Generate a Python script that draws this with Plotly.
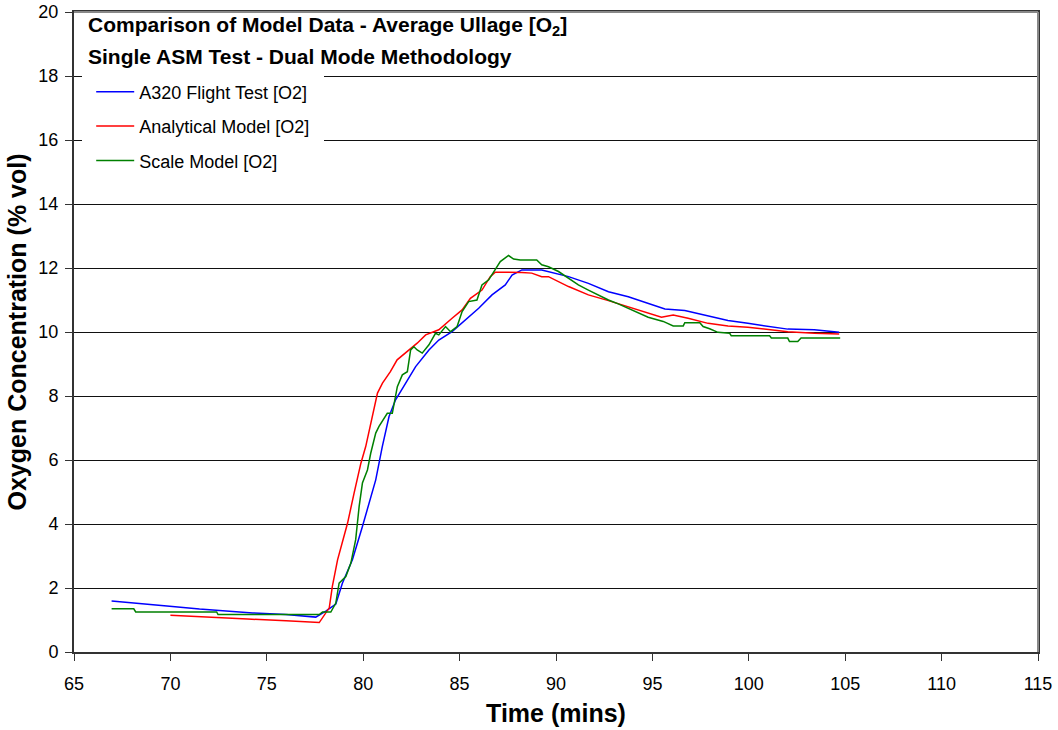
import plotly.graph_objects as go

# Time (mins) and O2 concentration (% vol)
flight_x = [66.95, 68.24, 69.96, 71.51, 72.9, 74.27, 75.99, 77.54, 78.06, 78.58, 78.92, 79.44,
            79.96, 80.30, 80.65, 80.99, 81.34, 81.68, 82.2, 82.72, 83.41, 83.92, 84.61, 85.3,
            85.99, 86.68, 87.37, 87.72, 88.23, 89.26, 89.61, 90.3, 90.65, 91.68, 92.72, 93.75,
            94.78, 95.65, 96.68, 97.89, 98.92, 99.95, 100.99, 102.02, 103.4, 104.69]
flight_y = [1.59, 1.53, 1.43, 1.34, 1.27, 1.22, 1.17, 1.09, 1.28, 1.5, 2.15, 2.88,
            3.92, 4.65, 5.38, 6.42, 7.36, 7.88, 8.4, 8.92, 9.44, 9.75, 10.01, 10.38,
            10.74, 11.16, 11.47, 11.78, 11.94, 11.94, 11.89, 11.78, 11.73, 11.52, 11.26, 11.1,
            10.9, 10.72, 10.67, 10.5, 10.36, 10.27, 10.17, 10.09, 10.07, 9.99]

analytical_x = [70.0, 72.0, 74.0, 76.0, 77.72, 78.24, 78.4, 78.67, 78.84, 79.19, 79.53, 79.88,
                80.13, 80.39, 80.74, 81.0, 81.41, 81.76, 82.27, 82.8, 83.24, 83.92, 84.61, 85.13,
                85.56, 86.16, 86.59, 86.85, 88.23, 88.74, 89.26, 89.61, 90.65, 91.68, 92.72, 93.75,
                94.61, 95.47, 96.08, 96.85, 97.89, 98.92, 99.95, 100.99, 102.02, 103.4, 104.69]
analytical_y = [1.15, 1.08, 1.03, 0.98, 0.92, 1.38, 2.05, 2.88, 3.25, 4.03, 4.97, 5.9,
                6.42, 7.15, 8.09, 8.4, 8.76, 9.13, 9.39, 9.65, 9.91, 10.07, 10.43, 10.69,
                11.05, 11.31, 11.73, 11.87, 11.86, 11.84, 11.73, 11.73, 11.42, 11.16, 10.98, 10.79,
                10.61, 10.46, 10.53, 10.43, 10.27, 10.19, 10.15, 10.07, 10.01, 9.96, 9.94]

scale_x = [66.95, 68.1, 68.2, 72.4, 72.47, 77.72, 77.89, 78.32, 78.58, 78.75, 79.1, 79.36,
           79.61, 79.79, 79.96, 80.22, 80.39, 80.65, 80.82, 81.25, 81.51, 81.77, 82.03, 82.29,
           82.46, 82.63, 82.8, 83.06, 83.41, 83.75, 83.92, 84.27, 84.53, 84.87, 85.13, 85.47,
           85.9, 86.16, 86.51, 87.11, 87.54, 87.8, 88.15, 89.0, 89.26, 89.61, 90.13, 90.65,
           91.16, 91.68, 92.2, 92.72, 93.23, 93.75, 94.27, 94.78, 95.56, 96.08, 96.6, 96.68,
           97.46, 97.63, 97.97, 98.4, 99.01, 99.09, 101.08, 101.17, 102.02, 102.11, 102.54, 102.71,
           104.74]
scale_y = [1.35, 1.35, 1.25, 1.25, 1.17, 1.17, 1.25, 1.25, 1.53, 2.15, 2.36, 2.78,
           3.51, 4.55, 5.28, 5.69, 6.21, 6.84, 7.05, 7.46, 7.46, 8.29, 8.66, 8.76,
           9.44, 9.54, 9.44, 9.34, 9.6, 9.96, 9.91, 10.17, 10.01, 10.17, 10.64, 10.95,
           11.0, 11.47, 11.63, 12.2, 12.39, 12.28, 12.25, 12.25, 12.1, 12.04, 11.89, 11.68,
           11.47, 11.31, 11.16, 11.0, 10.88, 10.74, 10.59, 10.46, 10.33, 10.19, 10.19, 10.29,
           10.29, 10.17, 10.1, 9.99, 9.96, 9.88, 9.88, 9.81, 9.81, 9.7, 9.7, 9.81,
           9.81]

FONT = "Arial, Liberation Sans, sans-serif"

fig = go.Figure()
fig.add_trace(go.Scatter(x=flight_x, y=flight_y, mode="lines", name="A320 Flight Test [O2]",
                         line=dict(color="#0000FF", width=1.5), legendgroup="a"))
fig.add_trace(go.Scatter(x=analytical_x, y=analytical_y, mode="lines", name="Analytical Model [O2]",
                         line=dict(color="#FF0000", width=1.5), legendgroup="b"))
fig.add_trace(go.Scatter(x=scale_x, y=scale_y, mode="lines", name="Scale Model [O2]",
                         line=dict(color="#008000", width=1.5), legendgroup="c"))

fig.update_layout(
    width=1058, height=730,
    margin=dict(l=74, r=20, t=12, b=78, autoexpand=False),
    paper_bgcolor="white", plot_bgcolor="white",
    font=dict(family=FONT, size=18, color="black"),
    showlegend=True,
    legend=dict(x=0.0085, y=0.918, xanchor="left", yanchor="top",
                bgcolor="white", bordercolor="white", borderwidth=9, font=dict(size=18),
                itemwidth=38, tracegroupgap=8, traceorder="grouped"),
    xaxis=dict(range=[65, 115], dtick=5, tick0=65, showgrid=False, zeroline=False,
               automargin=False, ticklabeloverflow="allow", mirror=True,
               showline=True, linecolor="#333333", linewidth=2,
               ticks="outside", ticklen=7, tickcolor="#333333", tickwidth=1,
               ticklabelstandoff=7,
               tickfont=dict(size=18),
               title=dict(text="<b>Time (mins)</b>", font=dict(size=25), standoff=12)),
    yaxis=dict(range=[0, 20], dtick=2, tick0=0, showgrid=True, gridcolor="#111111", gridwidth=1,
               automargin=False, ticklabeloverflow="allow", mirror=True,
               zeroline=False, showline=True, linecolor="#333333", linewidth=2,
               ticks="outside", ticklen=7, tickcolor="#333333", tickwidth=1,
               ticklabelstandoff=3,
               tickfont=dict(size=18),
               title=dict(text="<b>Oxygen Concentration (% vol)</b>", font=dict(size=25), standoff=5)),
)

# gray top and right border of the plot area
fig.add_shape(type="line", xref="x domain", yref="y domain", x0=0, x1=1, y0=1, y1=1,
              layer="above", line=dict(color="#888888", width=2))
fig.add_shape(type="line", xref="x domain", yref="y domain", x0=1, x1=1, y0=0, y1=1,
              layer="above", line=dict(color="#888888", width=2))

fig.add_annotation(xref="paper", yref="paper", x=0.012, y=0.978, xanchor="left", yanchor="middle",
                   showarrow=False, align="left",
                   text="<b>Comparison of Model Data - Average Ullage [O<sub>2</sub>]</b>",
                   font=dict(size=21, family=FONT, color="black"))
fig.add_annotation(xref="paper", yref="paper", x=0.012, y=0.931, xanchor="left", yanchor="middle",
                   showarrow=False, align="left",
                   text="<b>Single ASM Test - Dual Mode Methodology</b>",
                   font=dict(size=21, family=FONT, color="black"))

# remove the default 8px page margin so the figure fills the 1058x730 window exactly
fig.write_html("out.html", config={"displayModeBar": False},
               post_script="document.body.style.margin='0';document.body.style.overflow='hidden';")
